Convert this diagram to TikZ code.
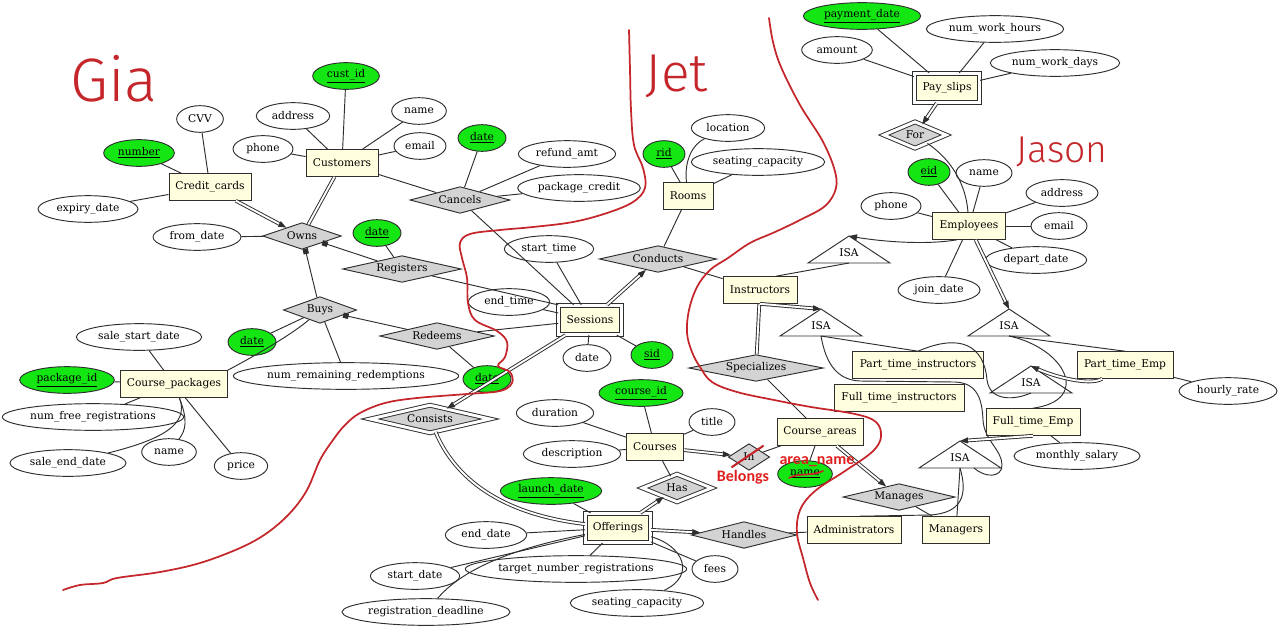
\documentclass[tikz,border=0pt]{standalone}
\usepackage{fontspec}
\setmainfont{DejaVu Serif}
\newfontfamily\notefont{Carlito}
\IfFontExistsTF{Fira Sans Light}
  {\newfontfamily\handfont{Fira Sans Light}}
  {\newfontfamily\handfont{Liberation Sans}}
\usetikzlibrary{shapes.geometric,arrows.meta,calc}
\definecolor{entfill}{HTML}{FFFFE0}
\definecolor{relfill}{HTML}{D3D3D3}
\definecolor{keygreen}{HTML}{14E614}
\definecolor{edge}{HTML}{2E2E2E}
\definecolor{pen}{HTML}{C4262B}
\definecolor{note}{HTML}{E0201E}
\tikzset{
  entity/.style={
    rectangle,
    draw=edge,
    line width=0.7pt,
    fill=entfill,
    minimum height=20pt,
    inner sep=2pt
  },
  weakentity/.style={
    entity,
    double=white,
    double distance=2.2pt,
    minimum height=22pt
  },
  attr/.style={
    ellipse,
    draw=edge,
    line width=0.7pt,
    fill=white,
    minimum height=20pt,
    inner sep=0pt
  },
  keyattr/.style={
    attr,
    fill=keygreen
  },
  rel/.style={
    diamond,
    aspect=4.5,
    draw=edge,
    line width=0.7pt,
    fill=relfill,
    minimum height=20pt,
    inner sep=0pt
  },
  weakrel/.style={
    rel,
    double=white,
    double distance=2.2pt
  },
  isalabel/.style={
    inner sep=0pt
  },
  isatri/.style={
    draw=edge,
    line width=0.7pt,
    fill=white
  },
  link/.style={
    draw=edge,
    line width=0.7pt
  },
  total/.style={
    link,
    double=white,
    double distance=1.4pt
  },
  toarrow/.style={
    -{Triangle[length=6pt,width=4.5pt]}
  },
  keyend/.style={
    -{Square[length=4pt,width=4pt]}
  },
  redline/.style={
    draw=pen,
    line width=1.3pt,
    line cap=round,
    line join=round
  },
  handtext/.style={
    text=pen,
    inner sep=0pt
  },
  notetext/.style={
    text=note,
    font=\notefont\bfseries\fontsize{12}{13}\selectfont,
    inner sep=0pt
  }
}

\begin{document}
\begin{tikzpicture}[x=0.75pt,y=-0.75pt,font=\fontsize{8}{9.6}\selectfont]

% Background
\fill[white] (0,0) rectangle (1280,629);
\useasboundingbox (0,0) rectangle (1280,629);

% ---------- Customers and packages ----------
\node[entity, minimum width=54pt] (cust) at (342,163) {Customers};
\node[entity, minimum width=61.5pt] (cc) at (210,187) {Credit\_cards};
\node[entity, minimum width=80pt] (cp) at (174,384) {Course\_packages};

\node[keyattr, minimum width=50pt] (custid) at (346,76) {\underline{cust\_id}};
\node[attr, minimum width=55pt] (caddr) at (293,116) {address};
\node[attr, minimum width=41pt] (cname) at (419,111) {name};
\node[attr, minimum width=45pt] (cphone) at (263,149) {phone};
\node[attr, minimum width=39pt] (cemail) at (420,146) {email};
\node[keyattr, minimum width=53pt] (ccnum) at (139,153) {\underline{number}};
\node[attr, minimum width=35pt] (cvv) at (200,119) {CVV};
\node[attr, minimum width=75pt] (expiry) at (88,209) {expiry\_date};

\node[rel, minimum width=59pt] (owns) at (302,236) {Owns};
\node[attr, minimum width=66pt] (fromdate) at (197,237) {from\_date};
\node[rel, minimum width=89pt] (regs) at (402,269) {Registers};
\node[keyattr, minimum width=36pt] (regdate) at (377,233) {\underline{date}};
\node[rel, minimum width=75pt] (cancels) at (460,200) {Cancels};
\node[keyattr, minimum width=36pt] (candate) at (482,138) {\underline{date}};
\node[attr, minimum width=73pt] (refund) at (567,154) {refund\_amt};
\node[attr, minimum width=92pt] (pkgcredit) at (579,188) {package\_credit};
\node[rel, minimum width=55pt] (buys) at (320,310) {Buys};
\node[keyattr, minimum width=36pt] (buydate) at (252,342) {\underline{date}};
\node[attr, minimum width=169pt] (numrem) at (346,376) {num\_remaining\_redemptions};
\node[rel, minimum width=86pt] (redeems) at (437,336) {Redeems};
\node[keyattr, minimum width=36pt] (reddate) at (487,379) {\underline{date}};

\node[attr, minimum width=94pt] (salestart) at (139,337) {sale\_start\_date};
\node[keyattr, minimum width=71pt] (pkgid) at (67,380) {\underline{package\_id}};
\node[attr, minimum width=136pt] (numfree) at (93,417) {num\_free\_registrations};
\node[attr, minimum width=41pt] (cpname) at (169,452) {name};
\node[attr, minimum width=87pt] (saleend) at (68,463) {sale\_end\_date};
\node[attr, minimum width=40pt] (price) at (241,466) {price};

% ---------- Sessions and courses ----------
\node[weakentity, minimum width=47pt] (sess) at (590,320) {Sessions};
\node[attr, minimum width=67pt] (starttime) at (549,249) {start\_time};
\node[attr, minimum width=61pt] (endtime) at (509,302) {end\_time};
\node[attr, minimum width=36pt] (sessdate) at (587,358) {date};
\node[keyattr, minimum width=31.5pt] (sid) at (652,355) {\underline{sid}};
\node[weakrel, minimum width=90pt, minimum height=21pt] (consists) at (430,419) {Consists};

\node[entity, minimum width=37.5pt] (rooms) at (688,196) {Rooms};
\node[keyattr, minimum width=31.5pt] (rid) at (664,154) {\underline{rid}};
\node[attr, minimum width=55pt] (loc) at (728,128) {location};
\node[attr, minimum width=100pt] (seatcap) at (758,162) {seating\_capacity};
\node[rel, minimum width=88pt] (conducts) at (658,259) {Conducts};
\node[entity, minimum width=55.5pt] (instr) at (760,290) {Instructors};
\node[rel, minimum width=101pt] (spec) at (756,368) {Specializes};

\node[entity, minimum width=43pt] (crs) at (655,447) {Courses};
\node[keyattr, minimum width=63pt] (courseid) at (641,393) {\underline{course\_id}};
\node[attr, minimum width=58pt] (duration) at (555,413) {duration};
\node[attr, minimum width=34.5pt] (title) at (712,422) {title};
\node[attr, minimum width=73pt] (desc) at (572,454) {description};
\node[weakrel, minimum width=52pt, minimum height=21pt] (has) at (677,488) {Has};
\node[rel, aspect=2, minimum width=31pt] (in) at (749,457) {In};

\node[weakentity, minimum width=49pt] (off) at (618,528) {Offerings};
\node[keyattr, minimum width=76pt] (launch) at (551,491) {\underline{launch\_date}};
\node[attr, minimum width=61pt] (enddate) at (486,535) {end\_date};
\node[attr, minimum width=67pt] (startdate) at (415,576) {start\_date};
\node[attr, minimum width=166pt] (target) at (576,569) {target\_number\_registrations};
\node[attr, minimum width=126pt] (regdl) at (426,612) {registration\_deadline};
\node[attr, minimum width=100pt] (seatcap2) at (637,603) {seating\_capacity};
\node[attr, minimum width=34.5pt] (fees) at (715,569) {fees};
\node[rel, minimum width=79pt] (handles) at (744,535) {Handles};

% ---------- Employees ----------
\node[weakentity, minimum width=49pt] (pays) at (947,88) {Pay\_slips};
\node[keyattr, minimum width=88pt] (paydate) at (862,16) {\underline{payment\_date}};
\node[attr, minimum width=53pt] (amount) at (837,50) {amount};
\node[attr, minimum width=103pt] (hours) at (995,29) {num\_work\_hours};
\node[attr, minimum width=97pt] (days) at (1055,63) {num\_work\_days};
\node[weakrel, minimum width=47pt, minimum height=20pt] (for) at (915,135) {For};

\node[entity, minimum width=55pt] (emp) at (969,226) {Employees};
\node[keyattr, minimum width=31.5pt] (eid) at (929,172) {\underline{eid}};
\node[attr, minimum width=42pt] (ename) at (984,173) {name};
\node[attr, minimum width=54pt] (eaddr) at (1062,193) {address};
\node[attr, minimum width=42pt] (eemail) at (1059,226) {email};
\node[attr, minimum width=76pt] (edepart) at (1036,260) {depart\_date};
\node[attr, minimum width=61.5pt] (ejoin) at (939,290) {join\_date};
\node[attr, minimum width=45pt] (ephone) at (891,206) {phone};

\node[entity, minimum width=98pt] (pti) at (918,365) {Part\_time\_instructors};
\node[entity, minimum width=97.5pt] (fti) at (899,398) {Full\_time\_instructors};
\node[entity, minimum width=72pt] (pte) at (1125,365) {Part\_time\_Emp};
\node[entity, minimum width=70.5pt] (fte) at (1033,422) {Full\_time\_Emp};
\node[attr, minimum width=73.5pt] (hourly) at (1228,391) {hourly\_rate};
\node[attr, minimum width=94.5pt] (monthly) at (1077,456) {monthly\_salary};

\node[entity, minimum width=64.5pt] (ca) at (820,432) {Course\_areas};
\node[keyattr, minimum width=41pt] (areaname) at (805,474) {\underline{name}};
\node[rel, minimum width=84pt] (manages) at (899,497) {Manages};
\node[entity, minimum width=70.5pt] (adm) at (854,530) {Administrators};
\node[entity, minimum width=50pt] (mgr) at (956,530) {Managers};

% ISA triangles
\foreach \n/\x/\y in {isa1/849/253, isa2/821/326, isa3/1009/326, isa4/1031/383, isa5/960/458}{
  \draw[isatri] (\x,\y-17) -- (\x+41,\y+10) -- (\x-41,\y+10) -- cycle;
  \node[isalabel] (\n) at (\x,\y) {ISA};
  \coordinate (\n-t) at (\x,\y-17);
  \coordinate (\n-b) at (\x,\y+10);
}

% ---------- Connectors ----------
\foreach \a/\b in {cust/custid, cust/caddr, cust/cname, cust/cphone, cust/cemail,
  cust/cancels, cc/ccnum, cc/cvv, cc/expiry, owns/fromdate, regs/regdate,
  regs/sess.north west, cancels/candate, cancels/refund, cancels/pkgcredit,
  cancels/sess, buys/buydate, buys/numrem, redeems/reddate, redeems/sess,
  sess/starttime, sess/endtime, sess/sessdate, sess/sid,
  cp/salestart, cp/pkgid, cp/numfree, cp/price,
  conducts/rooms, conducts/instr, rooms/rid, rooms/seatcap,
  crs/courseid, crs/duration, crs/title, crs/desc, crs/has,
  off/launch, off/enddate, off/startdate, off/target, off/fees,
  handles/adm, spec/ca, ca/in, ca/areaname, manages/mgr,
  pays/paydate, pays/amount, pays/hours, pays/days,
  emp/eid, emp/ename, emp/eaddr, emp/eemail, emp/edepart, emp/ejoin, emp/ephone,
  isa2-b/pti.north, isa3-b/pte.north, isa5-b/mgr, pte/hourly, fte/monthly}
  \draw[link] (\a) -- (\b);

\draw[link] (isa1-b) -- ($(instr.north)+(16,0)$);

% curved links
\draw[link] (cp.north east) .. controls (262,352) and (295,332) .. (buys);
\draw[link] (cp) .. controls (188,420) and (186,430) .. (cpname);
\draw[link] (cp) .. controls (190,425) and (160,440) .. (saleend);
\draw[link] (rooms) .. controls (684,160) and (693,144) .. (loc);
\draw[link] (for) .. controls (952,160) and (966,185) .. (emp);
\draw[link] (off) .. controls (505,550) and (460,572) .. (regdl);
\draw[link] (off) .. controls (682,545) and (697,575) .. (seatcap2);
\draw[link] (isa3-b) .. controls (1065,348) and (1092,400) .. (fte.north);
\draw[link] (isa4-b) .. controls (1015,400) and (990,402) .. (987,380)
  .. controls (984,345) and (960,333) .. (pti.north);
\draw[link] (isa2-b) .. controls (826,365) and (838,380) .. (860,381) -- (955,382)
  .. controls (978,383) and (982,400) .. (983,420)
  .. controls (984,440) and (1002,450) .. (1002,465)
  .. controls (1002,478) and (985,478) .. ($(isa5-b)+(14,0)$);
\draw[link] (isa5-b) .. controls (968,495) and (962,513) .. (930,515)
  -- ($(adm.north)+(6,0)$);

% key constraints
\draw[link,keyend] (regs) -- (owns);
\draw[link,keyend] (buys) -- (owns);
\draw[link,keyend] (redeems) -- (buys);

% total participation
\draw[total] (cust) -- (owns);
\draw[total] (instr) -- (spec);
\draw[total,toarrow] (cc) -- (owns);
\draw[total,toarrow] (sess) -- (conducts);
\draw[total,toarrow] (sess) -- (consists);
\draw[total,toarrow] (crs) -- (in);
\draw[total,toarrow] (off) -- (has);
\draw[total,toarrow] (off) -- (handles);
\draw[total,toarrow] (pays) -- (for);
\draw[total,toarrow] (ca) -- (manages);
\draw[total] (consists) .. controls (455,478) and (500,514) .. (off);

% ISA arrows
\draw[link,toarrow] ($(emp.south)+(-12,0)$) .. controls (920,246) and (872,240) .. (isa1-t);
\draw[total,toarrow] (emp) -- (isa3-t);
\draw[total,toarrow] (instr.south) -- (isa2-t);
\draw[total,toarrow] (pte) .. controls (1090,386) and (1055,377) .. (isa4-t);
\draw[total,toarrow] (fte.south) -- (isa5-t);

% ---------- Hand annotations ----------
\draw[redline] plot[smooth, tension=0.6] coordinates {(629,30) (630,70) (631,110)
  (634,145) (643,168) (645,188) (633,202) (607,213) (573,222) (533,227) (500,230)
  (470,234) (460,243) (462,258) (467,278) (468,303) (475,320) (497,331) (507,342)
  (505,357) (498,366) (510,372) (512,383) (500,391) (467,394) (417,398) (385,403)
  (360,413) (345,425) (333,440) (320,460) (307,490) (290,513) (267,533) (240,548)
  (200,563) (160,572) (117,578) (103,583) (80,585) (63,590)};
\draw[redline] plot[smooth, tension=0.6] coordinates {(769,18) (773,42) (781,67)
  (800,105) (822,140) (834,168) (836,188) (825,206) (800,220) (775,232) (750,243)
  (728,258) (710,270) (697,287) (689,310) (687,333) (692,352) (700,367) (712,382)
  (737,392) (774,400) (811,407) (855,414) (876,422) (881,437) (872,452) (845,471)
  (815,491) (800,510) (797,533) (803,558) (810,583) (818,600)};

\node[handtext, font=\handfont\fontsize{46}{50}\selectfont] (gia) at (114,79) {Gia};
\node[handtext, font=\handfont\fontsize{40}{44}\selectfont] (jet) at (677,76) {Jet};
\node[handtext, font=\handfont\fontsize{28}{32}\selectfont] (jason) at (1062,152) {Jason};

\draw[redline, line width=1.6pt] (732,467) -- (763,446);
\draw[redline] (789,478) .. controls (800,472) and (810,477) .. (823,471);
\node[notetext] (belongs) at (743,477) {Belongs};
\node[notetext] (areanote) at (817,462) {area\_name};

\end{tikzpicture}
\end{document}
